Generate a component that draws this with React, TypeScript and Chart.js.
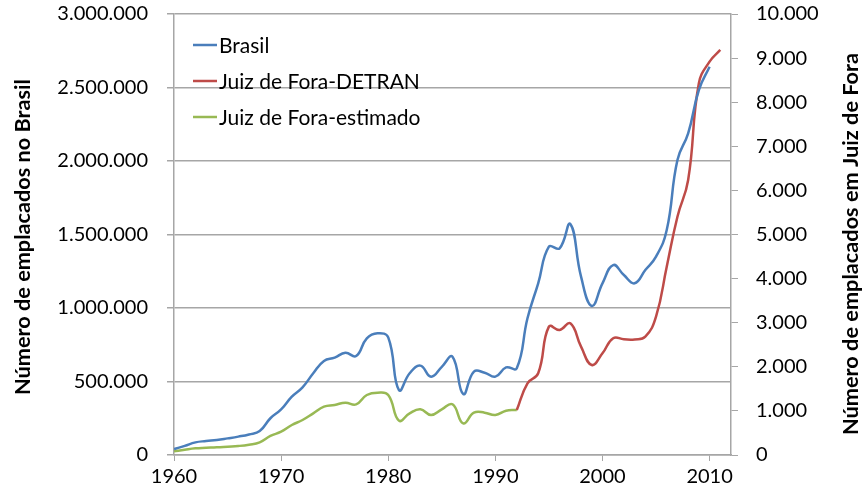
import React, { useEffect, useRef } from 'react';
import { Chart, registerables } from 'chart.js';

Chart.register(...registerables);

const brasilYears = [
  1960, 1961, 1962, 1963, 1964, 1965, 1966, 1967, 1968, 1969,
  1970, 1971, 1972, 1973, 1974, 1975, 1976, 1977, 1978, 1979,
  1980, 1981, 1982, 1983, 1984, 1985, 1986, 1987, 1988, 1989,
  1990, 1991, 1992, 1993, 1994, 1995, 1996, 1997, 1998, 1999,
  2000, 2001, 2002, 2003, 2004, 2005, 2006, 2007, 2008, 2009, 2010,
];
const brasilValues = [
  40000, 62000, 86000, 95000, 102000, 113000, 125000, 140000, 163000, 250000,
  310000, 397000, 460000, 556000, 640000, 662000, 696000, 673000, 794000, 828000,
  800000, 442000, 556000, 608000, 533000, 600000, 669000, 415000, 567000, 560000,
  533000, 596000, 590000, 930000, 1168000, 1417000, 1406000, 1571000, 1213000, 1014000,
  1168000, 1292000, 1224000, 1168000, 1258000, 1349000, 1530000, 2007000, 2188000, 2483000, 2641000,
];

const detranYears = [
  1992, 1993, 1994, 1995, 1996, 1997, 1998, 1999, 2000, 2001,
  2002, 2003, 2004, 2005, 2006, 2007, 2008, 2009, 2010, 2011,
];
const detranValues = [
  1020, 1626, 1853, 2910, 2835, 2987, 2456, 2041, 2306, 2647,
  2624, 2620, 2683, 3137, 4270, 5404, 6237, 8430, 8920, 9185,
];

const estimadoYears = [
  1960, 1961, 1962, 1963, 1964, 1965, 1966, 1967, 1968, 1969,
  1970, 1971, 1972, 1973, 1974, 1975, 1976, 1977, 1978, 1979,
  1980, 1981, 1982, 1983, 1984, 1985, 1986, 1987, 1988, 1989,
  1990, 1991, 1992,
];
const estimadoValues = [
  84, 120, 151, 163, 174, 189, 204, 234, 287, 431,
  529, 680, 794, 945, 1096, 1134, 1187, 1149, 1361, 1413,
  1361, 779, 945, 1036, 907, 1036, 1149, 718, 960, 960,
  907, 1005, 1020,
];

const seriesLabels = ['Brasil', 'Juiz de Fora-DETRAN', 'Juiz de Fora-estimado'];
const seriesColors = ['#4a7ebb', '#be4b48', '#98b954'];
const leftTitle = 'Número de emplacados no Brasil';
const rightTitle = 'Número de emplacados em Juiz de Fora';

const FONT = 'Lato, "Open Sans", sans-serif';
const GRID = '#a6a6a6';

const fmt = (v: number) => Math.round(v).toString().replace(/\B(?=(\d{3})+(?!\d))/g, '.');

const toPoints = (xs: number[], ys: number[]) => xs.map((x, i) => ({ x, y: ys[i] }));

const drawVertical = (ctx: CanvasRenderingContext2D, text: string, cx: number, cy: number, target: number) => {
  ctx.font = `bold 22px ${FONT}`;
  const w = ctx.measureText(text).width;
  const size = Math.max(16, Math.min(26, (22 * target) / w));
  ctx.font = `bold ${size.toFixed(2)}px ${FONT}`;
  ctx.save();
  ctx.translate(cx, cy);
  ctx.rotate(-Math.PI / 2);
  ctx.fillText(text, 0, 0);
  ctx.restore();
};

const overlay = {
  id: 'overlay',
  afterDraw(chart: any) {
    const ctx = chart.ctx as CanvasRenderingContext2D;
    ctx.save();
    // legend
    ctx.font = `21px ${FONT}`;
    ctx.textAlign = 'left';
    ctx.textBaseline = 'middle';
    chart.data.datasets.forEach((ds: any, i: number) => {
      const y = 45 + i * 36;
      ctx.strokeStyle = ds.borderColor;
      ctx.lineWidth = 2.5;
      ctx.beginPath();
      ctx.moveTo(193, y);
      ctx.lineTo(217, y);
      ctx.stroke();
      ctx.fillStyle = '#000';
      ctx.fillText(ds.label, 219, y + 1);
    });
    // axis titles
    ctx.textAlign = 'center';
    ctx.fillStyle = '#000';
    drawVertical(ctx, leftTitle, 23, 237, 316);
    drawVertical(ctx, rightTitle, 851, 244, 382);
    ctx.restore();
  },
};

export default function App() {
  const ref = useRef<HTMLCanvasElement>(null);
  useEffect(() => {
    if (!ref.current) return;
    const chart = new Chart(ref.current, {
      type: 'line',
      data: {
        datasets: [
          {
            label: seriesLabels[0],
            data: toPoints(brasilYears, brasilValues),
            borderColor: seriesColors[0],
            yAxisID: 'y',
          },
          {
            label: seriesLabels[1],
            data: toPoints(detranYears, detranValues),
            borderColor: seriesColors[1],
            yAxisID: 'y1',
          },
          {
            label: seriesLabels[2],
            data: toPoints(estimadoYears, estimadoValues),
            borderColor: seriesColors[2],
            yAxisID: 'y1',
          },
        ].map((d) => ({ ...d, borderWidth: 2.5, pointRadius: 0, tension: 0.45, fill: false })),
      },
      options: {
        responsive: false,
        animation: false,
        layout: { padding: { top: 14, left: 0, right: 0, bottom: 0 } },
        plugins: { legend: { display: false }, tooltip: { enabled: false } },
        scales: {
          x: {
            type: 'linear',
            min: 1960,
            max: 2012,
            afterFit: (s: any) => { s.height = 41; s.paddingLeft = 0; s.paddingRight = 0; },
            ticks: { stepSize: 10, includeBounds: false, color: '#000', font: { family: FONT, size: 20 }, padding: 4, maxRotation: 0, callback: (v: any) => String(v) },
            grid: { drawOnChartArea: false, drawTicks: true, tickLength: 6, color: GRID },
            border: { display: true, color: GRID, width: 1.5 },
          },
          y: {
            position: 'left',
            min: 0,
            max: 3000000,
            afterFit: (s: any) => { s.width = 174; s.paddingTop = 0; s.paddingBottom = 0; },
            ticks: { stepSize: 500000, color: '#000', font: { family: FONT, size: 20 }, padding: 19, callback: (v: any) => fmt(v) },
            grid: { color: GRID, lineWidth: 1.5, tickLength: 7 },
            border: { display: true, color: GRID, width: 1.5 },
          },
          y1: {
            position: 'right',
            min: 0,
            max: 10000,
            afterFit: (s: any) => { s.width = 135; s.paddingTop = 0; s.paddingBottom = 0; },
            ticks: { stepSize: 1000, color: '#000', font: { family: FONT, size: 20 }, padding: 18, callback: (v: any) => fmt(v) },
            grid: { drawOnChartArea: false, color: GRID, tickLength: 7 },
            border: { display: true, color: GRID, width: 1.5 },
          },
        },
      } as any,
      plugins: [overlay],
    });
    return () => chart.destroy();
  }, []);
  return (
    <div style={{ position: 'absolute', left: 0, top: 0, width: 866, height: 496 }}>
      <canvas ref={ref} width={866} height={496} />
    </div>
  );
}
